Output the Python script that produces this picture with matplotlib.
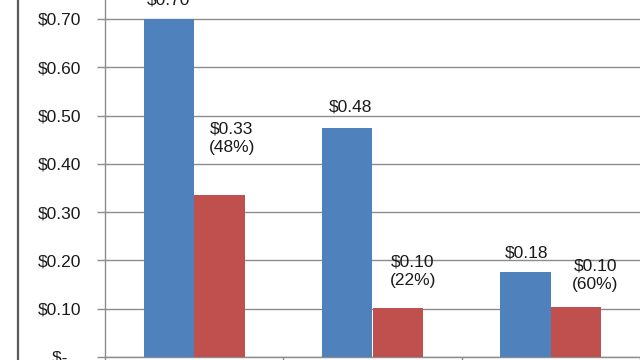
import matplotlib
matplotlib.use("Agg")
import matplotlib.pyplot as plt
from matplotlib.lines import Line2D
import numpy as np

plt.rcParams['font.family'] = ['Liberation Sans', 'DejaVu Sans']

categories = ["A", "B", "C"]
blue_values = [0.70, 0.475, 0.175]
red_values = [0.335, 0.102, 0.104]
blue_labels = ["$0.70", "$0.48", "$0.18"]
red_labels = ["$0.33\n(48%)", "$0.10\n(22%)", "$0.10\n(60%)"]
y_ticks = [0.0, 0.1, 0.2, 0.3, 0.4, 0.5, 0.6, 0.7]
y_tick_labels = ["$-   ", "$0.10", "$0.20", "$0.30", "$0.40", "$0.50", "$0.60", "$0.70"]

# label offsets (points) relative to bar top centre
blue_offsets = [(0, 14), (2, 15), (1, 14)]
red_offsets = [(9, 41), (11, 26), (14, 23)]

fig = plt.figure(figsize=(6.4, 3.6), dpi=100)
ax = fig.add_axes([105/640, 3/360, 535/640, 357/360])

x = np.arange(len(categories))
w = 0.283
blue_col = "#4F81BD"
red_col = "#C0504D"
ax.bar(x - w/2, blue_values, width=w, color=blue_col, zorder=3)
ax.bar(x + w/2, red_values, width=w, color=red_col, zorder=3)

fs = 12.5
for i in range(len(categories)):
    ax.annotate(blue_labels[i], (x[i] - w/2, blue_values[i]), xytext=blue_offsets[i],
                textcoords="offset points", ha="center", va="center", fontsize=fs,
                annotation_clip=False, color="#1a1a1a")
    ax.annotate(red_labels[i], (x[i] + w/2, red_values[i]), xytext=red_offsets[i],
                textcoords="offset points", ha="center", va="center", fontsize=fs,
                linespacing=1.3, annotation_clip=False, color="#1a1a1a")

ax.set_xlim(-0.5, 2.5)
ax.set_ylim(0, 357/482.9)
ax.set_yticks(y_ticks)
ax.set_yticklabels(y_tick_labels, fontsize=fs, color="#1a1a1a")
ax.set_xticks([-0.5, 0.5, 1.5, 2.5])
ax.set_xticklabels([])
ax.yaxis.grid(True, color="#8c8c8c", linewidth=1.0, zorder=0)
ax.tick_params(axis="y", length=5.8, width=1.0, color="#8c8c8c", pad=11)
ax.tick_params(axis="x", length=5.8, width=1.0, color="#8c8c8c")
for s in ["top", "right"]:
    ax.spines[s].set_visible(False)
for s in ["left", "bottom"]:
    ax.spines[s].set_color("#8c8c8c")
    ax.spines[s].set_linewidth(1.0)

fig.add_artist(Line2D([17.5/640, 17.5/640], [0, 1], transform=fig.transFigure,
                      color="#5a5a5a", linewidth=1.6))

fig.savefig("out.png", dpi=100)
